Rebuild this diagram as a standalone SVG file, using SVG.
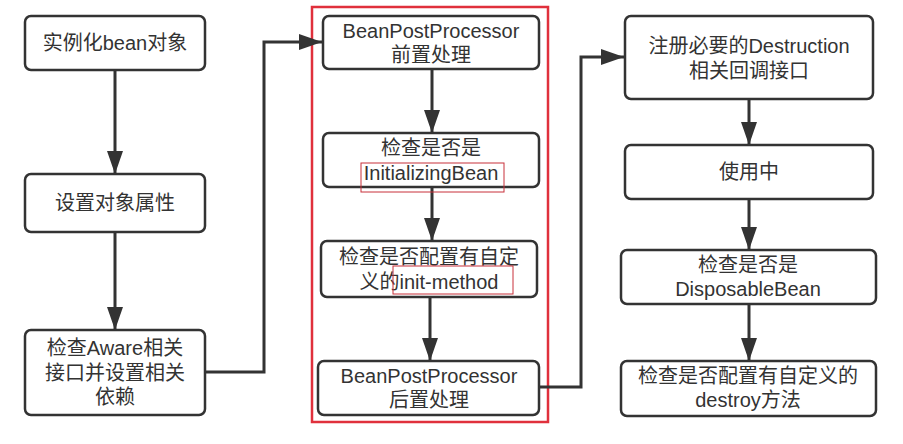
<svg xmlns="http://www.w3.org/2000/svg" width="903" height="444" viewBox="0 0 903 444">
<defs>
<style>
.node rect{fill:#ffffff;stroke:#333333;stroke-width:2.5}
.node text{font-family:"Liberation Sans","Noto Sans CJK SC",sans-serif;font-size:20px;fill:#333333;text-anchor:middle}
.conn{fill:none;stroke:#333333;stroke-width:3;marker-end:url(#arr)}
.frame{fill:none;stroke:#e0303c;stroke-width:2.5}
.hl{fill:none;stroke:#c8303a;stroke-width:1}
</style>
<marker id="arr" markerUnits="userSpaceOnUse" markerWidth="24" markerHeight="18" refX="23" refY="8" orient="auto">
<path d="M0,0 L23,8 L0,16 Z" fill="#333333"/>
</marker>
</defs>
<rect width="903" height="444" fill="#ffffff"/>
<rect class="frame" x="312" y="7" width="236" height="415"/>
<g id="connectors">
<path class="conn" d="M115,70 V174"/>
<path class="conn" d="M115,232 V330"/>
<path class="conn" d="M205,372 H264 V42 H322"/>
<path class="conn" d="M432,69 V133"/>
<path class="conn" d="M432,187 V241"/>
<path class="conn" d="M430,297 V361"/>
<path class="conn" d="M539,387 H581 V57 H624"/>
<path class="conn" d="M749,99 V145"/>
<path class="conn" d="M749,199 V250"/>
<path class="conn" d="M749,304 V361"/>
</g>
<g id="n1" class="node">
<rect x="25" y="16" width="180" height="54" rx="6"/>
<text x="115" y="50">实例化bean对象</text>
</g>
<g id="n2" class="node">
<rect x="25" y="174" width="180" height="58" rx="6"/>
<text x="115" y="210">设置对象属性</text>
</g>
<g id="n3" class="node">
<rect x="25" y="330" width="180" height="85" rx="6"/>
<text x="115" y="355">检查Aware相关</text>
<text x="115" y="380">接口并设置相关</text>
<text x="115" y="404">依赖</text>
</g>
<g id="m1" class="node">
<rect x="323" y="16" width="216" height="53" rx="6"/>
<text x="431" y="38">BeanPostProcessor</text>
<text x="431" y="62">前置处理</text>
</g>
<g id="m2" class="node">
<rect x="323" y="133" width="216" height="54" rx="6"/>
<text x="431" y="155">检查是否是</text>
<text x="431" y="180">InitializingBean</text>
</g>
<g id="m3" class="node">
<rect x="321" y="241" width="216" height="56" rx="6"/>
<text x="429" y="264">检查是否配置有自定</text>
<text x="429" y="289">义的init-method</text>
</g>
<g id="m4" class="node">
<rect x="318" y="361" width="221" height="54" rx="6"/>
<text x="429" y="383">BeanPostProcessor</text>
<text x="429" y="407">后置处理</text>
</g>
<rect class="hl" x="361" y="163" width="143" height="29"/>
<rect class="hl" x="393" y="266" width="120" height="28"/>
<g id="r1" class="node">
<rect x="625" y="16" width="248" height="83" rx="6"/>
<text x="749" y="53">注册必要的Destruction</text>
<text x="749" y="78">相关回调接口</text>
</g>
<g id="r2" class="node">
<rect x="625" y="145" width="248" height="54" rx="6"/>
<text x="749" y="179">使用中</text>
</g>
<g id="r3" class="node">
<rect x="621" y="250" width="255" height="54" rx="6"/>
<text x="748" y="272">检查是否是</text>
<text x="748" y="296">DisposableBean</text>
</g>
<g id="r4" class="node">
<rect x="621" y="361" width="255" height="55" rx="6"/>
<text x="748" y="383">检查是否配置有自定义的</text>
<text x="748" y="407">destroy方法</text>
</g>
</svg>
